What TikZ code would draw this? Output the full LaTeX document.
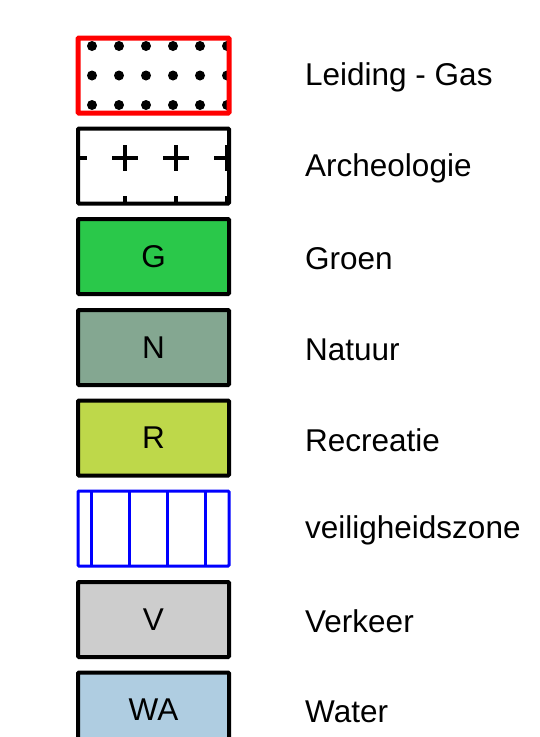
\documentclass[tikz,border=0pt]{standalone}
\usepackage{fontspec}
\setmainfont{Liberation Sans}
\usetikzlibrary{positioning}
\tikzset{
  legendbox/.style={draw, line width=4pt, rounded corners=1pt,
    minimum width=151pt, minimum height=75pt, inner sep=0pt,
    font=\fontsize{31.5}{36}\selectfont},
  legendtext/.style={anchor=west, inner sep=0pt, yshift=-2pt,
    font=\fontsize{31.5}{36}\selectfont}
}
\begin{document}
\begin{tikzpicture}[x=1pt,y=-1pt]
  \useasboundingbox (0,0) rectangle (539,737);

  % Leiding - Gas: red box with dots
  \node[legendbox, draw=red, line width=5pt, path picture={
      \foreach \i in {0,...,5} \foreach \j in {0,1,2}
        \fill ([xshift=14pt+\i*27pt, yshift=-8pt-\j*29.5pt]path picture bounding box.north west) circle (5pt);
    }] (gas) at (153.5,75.5) {};
  \node[legendtext] (gaslabel) at (305,75.5) {Leiding - Gas};

  % Archeologie: crosses
  \node[legendbox, path picture={
      \foreach \i in {0,...,3} \foreach \j in {0,1} {
        \coordinate (c) at ([xshift=-4pt+\i*51pt, yshift=-29pt-\j*51pt]path picture bounding box.north west);
        \draw[line width=4pt] ([xshift=-13pt]c) -- ([xshift=13pt]c);
        \draw[line width=4pt] ([yshift=-13pt]c) -- ([yshift=13pt]c);
      }
    }] (arch) at (153.5,166) {};
  \node[legendtext] (archlabel) at (305,166) {Archeologie};

  % Groen
  \node[legendbox, fill={rgb,255:red,42;green,200;blue,74}] (groen) at (153.5,256.5) {G};
  \node[legendtext] (groenlabel) at (305,256.5) {Groen};

  % Natuur
  \node[legendbox, fill={rgb,255:red,132;green,167;blue,145}] (natuur) at (153.5,347.5) {N};
  \node[legendtext] (natuurlabel) at (305,347.5) {Natuur};

  % Recreatie
  \node[legendbox, fill={rgb,255:red,190;green,216;blue,74}] (recr) at (153.5,438) {R};
  \node[legendtext] (recrlabel) at (305,438) {Recreatie};

  % veiligheidszone: blue box with vertical lines
  \node[legendbox, draw=blue, line width=3pt, path picture={
      \foreach \i in {0,...,3}
        \draw[blue, line width=3pt] ([xshift=13pt+\i*38pt]path picture bounding box.north west)
          -- ([xshift=13pt+\i*38pt]path picture bounding box.south west);
    }] (veil) at (153.5,528.5) {};
  \node[legendtext] (veillabel) at (305,528.5) {veiligheidszone};

  % Verkeer
  \node[legendbox, fill={rgb,255:red,205;green,205;blue,205}] (verkeer) at (153.5,619.5) {V};
  \node[legendtext] (verkeerlabel) at (305,619.5) {Verkeer};

  % Water
  \node[legendbox, fill={rgb,255:red,175;green,205;blue,225}] (water) at (153.5,710) {WA};
  \node[legendtext] (waterlabel) at (305,710) {Water};
\end{tikzpicture}
\end{document}
